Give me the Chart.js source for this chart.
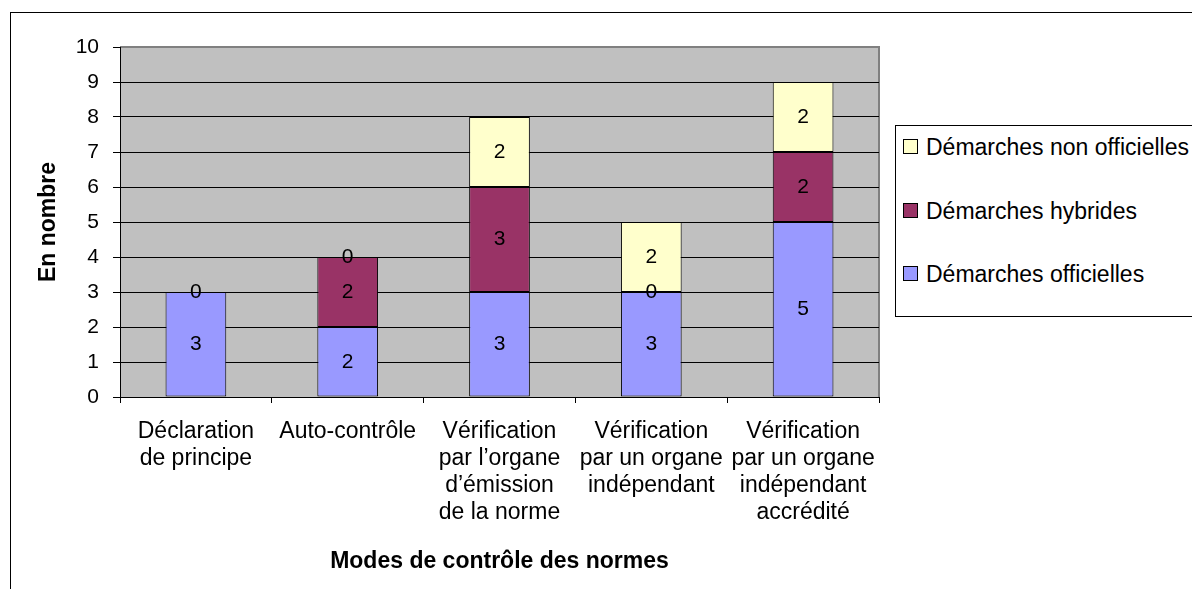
<!DOCTYPE html>
<html lang="fr">
<head>
<meta charset="utf-8">
<title>Modes de contrôle des normes</title>
<script src="https://cdn.jsdelivr.net/npm/chart.js@4.4.0/dist/chart.umd.min.js"></script>
<style>
  html, body { margin: 0; padding: 0; background: #fff; overflow: hidden; }
  #wrap { position: relative; width: 1192px; height: 589px; }
  #frame { position: absolute; left: 10px; top: 12px; width: 1300px; height: 700px;
           border-top: 1px solid #000; border-left: 1px solid #000; }
  #legend { position: absolute; left: 895px; top: 125px; width: 330px; height: 190px;
            border: 1px solid #000; background: #fff;
            font-family: "Liberation Sans", Arial, sans-serif; font-size: 23px; color: #000; }
  .item { position: absolute; left: 7px; height: 28px; line-height: 28px; white-space: nowrap; }
  .sw { display: inline-block; width: 13px; height: 13px; border: 1px solid #000;
        vertical-align: middle; margin-right: 8px; position: relative; top: -2px; }
  canvas { position: absolute; left: 0; top: 0; }
</style>
</head>
<body>
<div id="wrap">
  <div id="frame"></div>
  <canvas id="modesChart" width="1192" height="589"></canvas>
  <div id="legend"></div>
</div>
<script>
const categories = [
  ["Déclaration", "de principe"],
  ["Auto-contrôle"],
  ["Vérification", "par l\u2019organe", "d\u2019émission", "de la norme"],
  ["Vérification", "par un organe", "indépendant"],
  ["Vérification", "par un organe", "indépendant", "accrédité"]
];
const officielles = [3, 2, 3, 3, 5];
const hybrides = [0, 2, 3, 0, 2];
const nonOfficielles = [null, 0, 2, 2, 2];
const seriesNames = ["Démarches officielles", "Démarches hybrides", "Démarches non officielles"];
const seriesColors = ["#9999FF", "#993366", "#FFFFCC"];
const yTicks = [0, 1, 2, 3, 4, 5, 6, 7, 8, 9, 10];

const FONT = '"Liberation Sans", Arial, sans-serif';

// gray plot background + gray border on top/right
const plotBg = {
  id: "plotBg",
  beforeDraw(chart) {
    const { ctx, chartArea: a } = chart;
    ctx.save();
    ctx.fillStyle = "#C0C0C0";
    ctx.fillRect(a.left, a.top, a.right - a.left, a.bottom - a.top);
    ctx.strokeStyle = "#808080";
    ctx.lineWidth = 2;
    ctx.beginPath();
    ctx.moveTo(a.left, a.top);
    ctx.lineTo(a.right, a.top);
    ctx.lineTo(a.right, a.bottom);
    ctx.stroke();
    ctx.restore();
  }
};

// values written in the middle of each segment
const segLabels = {
  id: "segLabels",
  afterDatasetsDraw(chart) {
    const { ctx } = chart;
    ctx.save();
    ctx.font = "21px " + FONT;
    ctx.fillStyle = "#000";
    ctx.textAlign = "center";
    ctx.textBaseline = "middle";
    chart.data.datasets.forEach((ds, di) => {
      const meta = chart.getDatasetMeta(di);
      meta.data.forEach((bar, i) => {
        const v = ds.data[i];
        if (v === null || v === undefined) return;
        ctx.fillText(String(v), bar.x, (bar.y + bar.base) / 2);
      });
    });
    ctx.restore();
  }
};

const datasets = [officielles, hybrides, nonOfficielles].map((d, i) => ({
  label: seriesNames[i],
  data: d,
  backgroundColor: seriesColors[i],
  borderColor: "#000",
  borderWidth: 1,
  borderSkipped: false,
  barPercentage: 0.4,
  categoryPercentage: 1
}));

new Chart("modesChart", {
  type: "bar",
  data: { labels: categories, datasets: datasets },
  plugins: [plotBg, segLabels],
  options: {
    responsive: false,
    animation: false,
    layout: { padding: { left: 0, top: 47, right: 313, bottom: 0 } },
    plugins: { legend: { display: false }, tooltip: { enabled: false } },
    scales: {
      x: {
        stacked: true,
        afterFit(scale) { scale.height = 192; },
        grid: { drawOnChartArea: false, drawTicks: true, tickLength: 6, offset: true, color: "#000", tickColor: "#000" },
        border: { display: true, color: "#000", width: 1 },
        ticks: { color: "#000", padding: 15, maxRotation: 0, autoSkip: false,
                 font: { family: FONT, size: 23, lineHeight: 1.18 } },
        title: { display: true, text: "Modes de contrôle des normes", color: "#000",
                 font: { family: FONT, size: 23, weight: "bold" }, padding: { top: 0, bottom: 14 } }
      },
      y: {
        stacked: true,
        min: 0,
        max: 10,
        afterFit(scale) { scale.width = 120; },
        afterBuildTicks(scale) { scale.ticks = yTicks.map(v => ({ value: v })); },
        grid: { color: c => (c.tick && c.tick.value === 10 ? "#808080" : "#000"),
                tickColor: "#000", tickLength: 7, lineWidth: 1 },
        border: { display: true, color: "#000", width: 1 },
        ticks: { color: "#000", padding: 14, font: { family: FONT, size: 21 } },
        title: { display: true, text: "En nombre", color: "#000",
                 font: { family: FONT, size: 23, weight: "bold" }, padding: { top: 35, bottom: 0 } }
      }
    }
  }
});

// legend box, top entry = last series
const legend = document.getElementById("legend");
seriesNames.slice().reverse().forEach((name, k) => {
  const idx = seriesNames.length - 1 - k;
  const item = document.createElement("div");
  item.className = "item";
  item.style.top = (7 + k * 63.5) + "px";
  const sw = document.createElement("span");
  sw.className = "sw";
  sw.style.background = seriesColors[idx];
  item.appendChild(sw);
  item.appendChild(document.createTextNode(name));
  legend.appendChild(item);
});
</script>
</body>
</html>
